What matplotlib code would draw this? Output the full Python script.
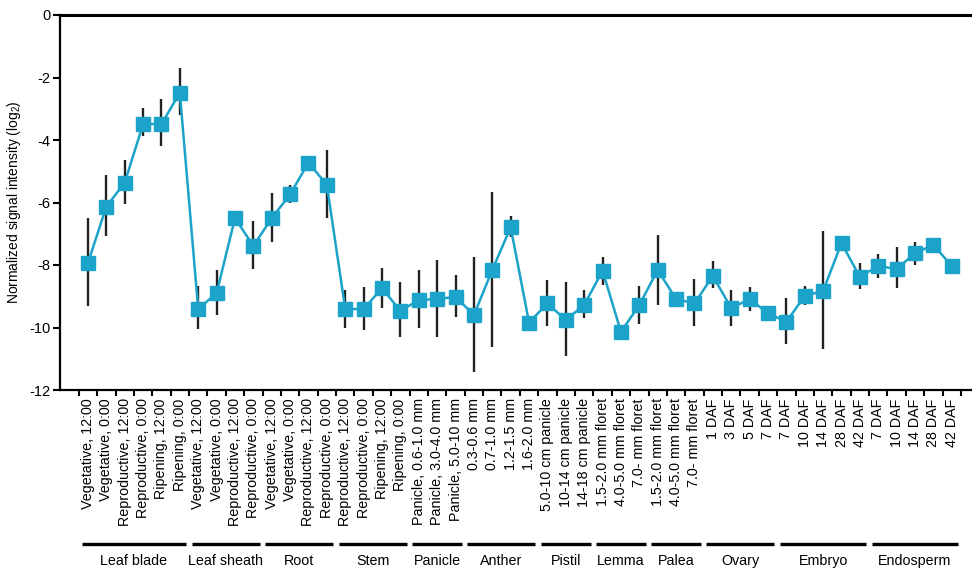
import matplotlib
matplotlib.use("Agg")
import matplotlib.pyplot as plt
import matplotlib.transforms as mtransforms
from matplotlib.lines import Line2D
import numpy as np

plt.rcParams['font.family'] = ['Liberation Sans', 'DejaVu Sans']
plt.rcParams['mathtext.fontset'] = 'custom'
plt.rcParams['mathtext.rm'] = 'Liberation Sans'

groups = ["Leaf blade", "Leaf sheath", "Root", "Stem", "Panicle", "Anther",
          "Pistil", "Lemma", "Palea", "Ovary", "Embryo", "Endosperm"]
group_labels = [
    ["Vegetative, 12:00", "Vegetative, 0:00", "Reproductive, 12:00", "Reproductive, 0:00", "Ripening, 12:00", "Ripening, 0:00"],
    ["Vegetative, 12:00", "Vegetative, 0:00", "Reproductive, 12:00", "Reproductive, 0:00"],
    ["Vegetative, 12:00", "Vegetative, 0:00", "Reproductive, 12:00", "Reproductive, 0:00"],
    ["Reproductive, 12:00", "Reproductive, 0:00", "Ripening, 12:00", "Ripening, 0:00"],
    ["Panicle, 0.6-1.0 mm", "Panicle, 3.0-4.0 mm", "Panicle, 5.0-10 mm"],
    ["0.3-0.6 mm", "0.7-1.0 mm", "1.2-1.5 mm", "1.6-2.0 mm"],
    ["5.0-10 cm panicle", "10-14 cm panicle", "14-18 cm panicle"],
    ["1.5-2.0 mm floret", "4.0-5.0 mm floret", "7.0- mm floret"],
    ["1.5-2.0 mm floret", "4.0-5.0 mm floret", "7.0- mm floret"],
    ["1 DAF", "3 DAF", "5 DAF", "7 DAF"],
    ["7 DAF", "10 DAF", "14 DAF", "28 DAF", "42 DAF"],
    ["7 DAF", "10 DAF", "14 DAF", "28 DAF", "42 DAF"],
]

values = [-7.94, -6.13, -5.37, -3.49, -3.49, -2.49,
          -9.41, -8.90, -6.50, -7.39,
          -6.50, -5.74, -4.72, -5.44,
          -9.41, -9.41, -8.74, -9.47,
          -9.12, -9.09, -9.02,
          -9.60, -8.16, -6.79, -9.84,
          -9.23, -9.76, -9.28,
          -8.18, -10.14, -9.28,
          -8.16, -9.09, -9.23,
          -8.35, -9.38, -9.09, -9.54,
          -9.82, -8.99, -8.83, -7.30, -8.38,
          -8.03, -8.13, -7.62, -7.36, -8.03]
err_high = [-6.50, -5.12, -4.64, -2.98, -2.69, -1.69,
            -8.67, -8.16, -6.40, -6.59,
            -5.69, -5.44, -4.60, -4.32,
            -8.80, -8.70, -8.10, -8.53,
            -8.16, -7.84, -8.32,
            -7.75, -5.66, -6.43, -9.70,
            -8.48, -8.53, -8.80,
            -7.73, -10.00, -8.67,
            -7.04, -9.00, -8.45,
            -7.87, -8.80, -8.70, -9.45,
            -9.06, -8.67, -6.91, -7.20, -7.94,
            -7.65, -7.42, -7.25, -7.25, -7.95]
err_low = [-9.30, -7.07, -6.05, -3.87, -4.19, -3.20,
           -10.06, -9.60, -6.60, -8.13,
           -7.25, -6.00, -4.85, -6.50,
           -10.00, -10.08, -9.37, -10.30,
           -10.02, -10.30, -9.65,
           -11.42, -10.62, -7.10, -9.95,
           -9.95, -10.90, -9.70,
           -8.64, -10.25, -9.89,
           -9.28, -9.20, -9.95,
           -8.74, -9.95, -9.47, -9.65,
           -10.53, -9.28, -10.69, -7.40, -8.77,
           -8.42, -8.74, -8.00, -7.45, -8.10]

tick_labels = [l for g in group_labels for l in g]
n = len(tick_labels)
x = np.arange(n)
v = np.array(values)
yerr = np.vstack([v - np.array(err_low), np.array(err_high) - v])

fig = plt.figure(figsize=(9.72, 5.70), dpi=100)
ax = fig.add_axes([60/972, 1-390/570, 1-60/972, (390-15)/570])

ax.errorbar(x, v, yerr=yerr, fmt='none', ecolor='#222222', elinewidth=1.7, capsize=0, zorder=2)
ax.plot(x, v, color='#1ba3c9', lw=1.8, marker='s', markersize=10.5,
        markerfacecolor='#1ba3c9', markeredgecolor='#1ba3c9', zorder=3)

ax.set_xlim(-1.52, 48.1)
ax.set_ylim(-12, 0)
ax.set_yticks(np.arange(-12, 1, 2))
ax.set_yticklabels([str(t) for t in range(-12, 1, 2)], fontsize=10.5)
ax.set_xticks(x)
ax.set_xticklabels(tick_labels, rotation=90, fontsize=10.3, va='top', ha='center')
ax.tick_params(axis='x', which='major', length=0, pad=6)
ax.set_xticks(np.arange(-0.5, n, 1), minor=True)
ax.tick_params(axis='x', which='minor', length=4, width=1.5, direction='out')
ax.tick_params(axis='y', length=5, width=1.5, direction='out', pad=2)

for s in ['left', 'bottom']:
    ax.spines[s].set_linewidth(1.6)
ax.spines['top'].set_linewidth(2.2)
ax.spines['right'].set_visible(False)

ax.set_ylabel(r'Normalized signal intensity (log$_2$)', fontsize=10, labelpad=4)

trans = mtransforms.blended_transform_factory(ax.transData, fig.transFigure)
start = 0
line_y = 1 - 544/570
text_y = 1 - 561/570
for g, labs in zip(groups, group_labels):
    end = start + len(labs) - 1
    fig.add_artist(Line2D([start - 0.35, end + 0.35], [line_y, line_y], transform=trans,
                          color='black', lw=2.4, solid_capstyle='butt'))
    fig.text((start + end) / 2, text_y, g, transform=trans, ha='center', va='center', fontsize=10.3)
    start = end + 1

fig.savefig('out.png', dpi=100)
